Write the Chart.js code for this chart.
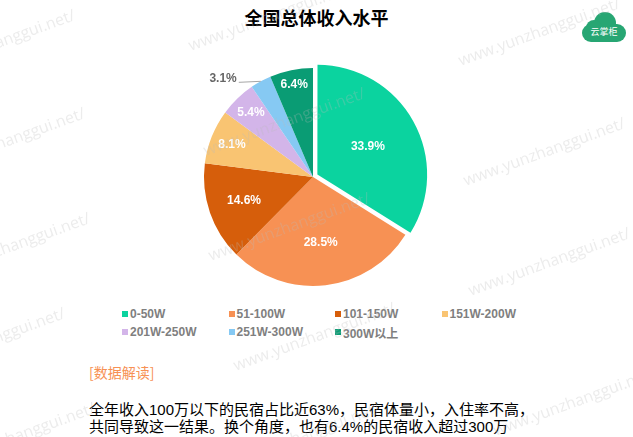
<!DOCTYPE html>
<html>
<head>
<meta charset="utf-8">
<script src="https://cdn.jsdelivr.net/npm/chart.js@4.4.1/dist/chart.umd.min.js"></script>
<style>
  html, body { margin: 0; padding: 0; }
  body {
    width: 633px; height: 437px; position: relative; overflow: hidden; background: #fff;
    font-family: "Liberation Sans", "Noto Sans CJK SC", sans-serif;
  }
  #title {
    position: absolute; left: 0; top: 6px; width: 633px; text-align: center;
    font: bold 18px "Noto Sans CJK SC", sans-serif; color: #000; line-height: 22px;
  }
  #logo { position: absolute; left: 582px; top: 12px; width: 44px; height: 32px; }
  #logo .b { position: absolute; background: #27a673; border-radius: 50%; }
  #logo .t {
    position: absolute; left: 0; top: 15px; width: 44px; text-align: center;
    font: 9px "Noto Sans CJK SC", sans-serif; color: #fff; line-height: 10px;
  }
  #wrap { position: absolute; left: 0; top: 58px; width: 626px; height: 238px; }
  #legend {
    position: absolute; left: 122px; top: 305px; width: 430px;
    display: grid; grid-template-columns: repeat(4, 106.5px); grid-auto-rows: 18px;
  }
  #legend .it { display: flex; align-items: center; font-weight: bold; font-size: 12px; color: #7f7f7f; }
  #legend .sq { width: 6px; height: 6px; margin-right: 2px; }
  #head {
    position: absolute; left: 89px; top: 362px;
    font: 14px "Noto Sans CJK SC", sans-serif; color: #f79154; line-height: 20px;
  }
  #note {
    position: absolute; left: 89px; top: 401px; width: 520px;
    font: 15px "Liberation Sans", "Noto Sans CJK SC", sans-serif; color: #000; line-height: 17px;
  }
  #wm { position: absolute; left: 0; top: 0; width: 633px; height: 437px; pointer-events: none; }
  #wm span {
    position: absolute; white-space: nowrap; font: 16px "Open Sans", sans-serif;
    color: rgba(185,185,185,0.28); transform: rotate(-20deg); transform-origin: left top;
  }
</style>
</head>
<body>
<div id="title">全国总体收入水平</div>
<div id="logo">
  <div class="b" style="left:12px;top:0;width:22px;height:22px"></div>
  <div class="b" style="left:4px;top:8px;width:16px;height:16px"></div>
  <div class="b" style="left:0;top:12px;width:44px;height:18px;border-radius:9px"></div>
  <div class="t">云掌柜</div>
</div>
<div id="wrap"><canvas id="pie"></canvas></div>
<div id="legend"></div>
<div id="head">[数据解读]</div>
<div id="note">全年收入100万以下的民宿占比近63%，民宿体量小，入住率不高，<br>共同导致这一结果。换个角度，也有6.4%的民宿收入超过300万</div>
<div id="wm"></div>
<script>
/* data */
const labels = ['0-50W', '51-100W', '101-150W', '151W-200W', '201W-250W', '251W-300W', '300W以上'];
const values = [33.9, 28.5, 14.6, 8.1, 5.4, 3.1, 6.4];
const colors = ['#0bd39f', '#f79154', '#d65e0b', '#f9c472', '#d3b5e9', '#86c9f3', '#0a9c74'];

/* label layout: radius factor per slice, null = outside with leader line */
const labelPos = [0.53, 0.61, 0.67, 0.8, 0.82, null, 0.86];

/* legend */
const legend = document.getElementById('legend');
labels.forEach((l, i) => {
  const it = document.createElement('div');
  it.className = 'it';
  it.innerHTML = `<span class="sq" style="background:${colors[i]}"></span>${l}`;
  legend.appendChild(it);
});

/* watermark */
const wm = document.getElementById('wm');
[[-90, 62], [-80, 160], [-75, 265], [-100, 360], [-70, 455],
 [185, 35], [200, 140], [205, 245], [230, 355], [215, 455],
 [455, 50], [460, 170], [465, 280], [490, 420]].forEach(([x, y]) => {
  const s = document.createElement('span');
  s.textContent = 'www.yunzhanggui.net/';
  s.style.left = x + 'px';
  s.style.top = y + 'px';
  wm.appendChild(s);
});

const sliceLabels = {
  id: 'sliceLabels',
  afterDatasetsDraw(chart) {
    const { ctx } = chart;
    const meta = chart.getDatasetMeta(0);
    ctx.save();
    ctx.font = 'bold 12px "Liberation Sans", sans-serif';
    ctx.textBaseline = 'middle';
    meta.data.forEach((arc, i) => {
      const { x, y, startAngle, endAngle, outerRadius } = arc.getProps(['x', 'y', 'startAngle', 'endAngle', 'outerRadius'], true);
      const mid = (startAngle + endAngle) / 2;
      const off = (arc.options.offset || 0) / 4;
      const cx = x + Math.cos(mid) * off, cy = y + Math.sin(mid) * off;
      const txt = values[i].toFixed(1) + '%';
      if (labelPos[i] === null) {
        const ex = cx + Math.cos(mid) * outerRadius, ey = cy + Math.sin(mid) * outerRadius;
        ctx.strokeStyle = '#a6a6a6';
        ctx.lineWidth = 1;
        ctx.beginPath();
        ctx.moveTo(ex, ey);
        ctx.lineTo(ex - 22, ey + 1);
        ctx.stroke();
        ctx.fillStyle = '#666';
        ctx.textAlign = 'right';
        ctx.fillText(txt, ex - 24, ey - 3);
      } else {
        const r = outerRadius * labelPos[i];
        ctx.fillStyle = '#fff';
        ctx.textAlign = 'center';
        ctx.fillText(txt, cx + Math.cos(mid) * r, cy + Math.sin(mid) * r);
      }
    });
    ctx.restore();
  }
};

new Chart(document.getElementById('pie'), {
  type: 'pie',
  data: {
    labels,
    datasets: [{
      data: values,
      backgroundColor: colors,
      borderWidth: 0,
      hoverOffset: 0,
      offset: [20, 0, 0, 0, 0, 0, 0]
    }]
  },
  options: {
    responsive: true, maintainAspectRatio: false, animation: false,
    layout: { padding: 0 },
    plugins: { legend: { display: false }, tooltip: { enabled: false }, title: { display: false } }
  },
  plugins: [sliceLabels]
});
</script>
</body>
</html>
